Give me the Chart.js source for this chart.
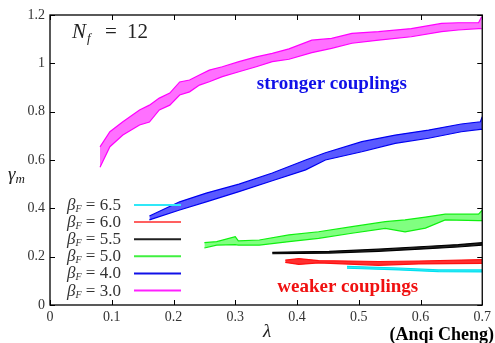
<!DOCTYPE html>
<html>
<head>
<meta charset="utf-8">
<script src="https://cdn.jsdelivr.net/npm/chart.js@4.4.1/dist/chart.umd.min.js"></script>
<style>
html,body{margin:0;padding:0;background:#fff;}
#c{display:block;}
</style>
</head>
<body>
<canvas id="c" width="495" height="343"></canvas>
<script>
// ---- data ----
const xTicks = [0, 0.1, 0.2, 0.3, 0.4, 0.5, 0.6, 0.7];
const yTicks = [0, 0.2, 0.4, 0.6, 0.8, 1, 1.2];
const legendLabels = ["6.5", "6.0", "5.5", "5.0", "4.0", "3.0"];

// beta_F = 3.0 (magenta)
const lam30 = [0.081,0.097,0.118,0.145,0.161,0.177,0.194,0.210,0.226,0.242,0.258,0.279,0.306,0.334,0.360,0.387,0.424,0.456,0.489,0.532,0.585,0.634,0.661,0.694,0.699];
const hi30  = [0.654,0.717,0.758,0.807,0.827,0.856,0.877,0.923,0.931,0.952,0.972,0.986,1.007,1.027,1.041,1.060,1.096,1.103,1.124,1.131,1.144,1.165,1.168,1.168,1.193];
const lo30  = [0.570,0.655,0.703,0.745,0.757,0.807,0.827,0.869,0.882,0.910,0.924,0.945,0.965,0.986,1.007,1.017,1.044,1.062,1.083,1.096,1.110,1.131,1.138,1.144,1.144];

// beta_F = 4.0 (blue)
const lam40 = [0.161,0.210,0.253,0.306,0.360,0.414,0.446,0.505,0.559,0.613,0.666,0.697,0.700];
const hi40  = [0.368,0.427,0.463,0.500,0.546,0.600,0.630,0.676,0.703,0.724,0.749,0.758,0.779];
const lo40  = [0.352,0.393,0.427,0.469,0.514,0.559,0.600,0.634,0.669,0.690,0.717,0.727,0.727];

// beta_F = 5.0 (green)
const lam50 = [0.250,0.270,0.300,0.305,0.339,0.387,0.435,0.489,0.543,0.575,0.608,0.640,0.694,0.700];
const hi50  = [0.258,0.262,0.283,0.265,0.269,0.290,0.303,0.324,0.345,0.352,0.364,0.376,0.376,0.392];
const lo50  = [0.236,0.248,0.250,0.248,0.248,0.262,0.276,0.297,0.317,0.303,0.318,0.352,0.349,0.349];

// beta_F = 5.5 (black)
const lam55 = [0.360,0.452,0.532,0.613,0.661,0.700];
const hi55  = [0.218,0.222,0.231,0.243,0.250,0.258];
const lo55  = [0.212,0.215,0.222,0.233,0.240,0.248];

// beta_F = 6.0 (red)
const lam60 = [0.381,0.403,0.435,0.532,0.597,0.700];
const hi60  = [0.186,0.192,0.184,0.180,0.182,0.188];
const lo60  = [0.176,0.168,0.174,0.164,0.170,0.172];

// beta_F = 6.5 (cyan)
const lam65 = [0.481,0.565,0.629,0.700];
const hi65  = [0.160,0.153,0.145,0.145];
const lo65  = [0.152,0.145,0.138,0.137];

// ---- styles ----
const edgeColors = {"6.5":"#00e0f0","6.0":"#ff1010","5.5":"#000000","5.0":"#10f010","4.0":"#0000f0","3.0":"#ff00ff"};
const fillColors = {"6.5":"#40eef8","6.0":"#ff3030","5.5":"#202020","5.0":"#80ff80","4.0":"#5a5aff","3.0":"#ff70ff"};
const legendLineColors = {"6.5":"#30e8f8","6.0":"#ff6060","5.5":"#202020","5.0":"#40f040","4.0":"#1010e8","3.0":"#ff20ff"};

function band(key, lam, lo, hi){
  const edge = edgeColors[key], fill = fillColors[key];
  return [
    {label:key+"lo", data: lam.map((x,i)=>({x:x,y:lo[i]})), borderColor:edge, borderWidth:1.2,
     pointRadius:0, fill:false, tension:0},
    {label:key, data: lam.map((x,i)=>({x:x,y:hi[i]})), borderColor:edge, borderWidth:1.2,
     pointRadius:0, fill:'-1', backgroundColor:fill, tension:0}
  ];
}

const datasets = [].concat(
  band("3.0", lam30, lo30, hi30),
  band("4.0", lam40, lo40, hi40),
  band("5.0", lam50, lo50, hi50),
  band("5.5", lam55, lo55, hi55),
  band("6.0", lam60, lo60, hi60),
  band("6.5", lam65, lo65, hi65)
);

const SERIF = '"Liberation Serif","DejaVu Serif",serif';

function fmt(v){ return String(Number(v.toFixed(2))); }

const decor = {
  id:'decor',
  afterDraw(chart){
    const ctx = chart.ctx, ca = chart.chartArea;
    const xs = chart.scales.x, ys = chart.scales.y;
    ctx.save();
    // frame
    ctx.strokeStyle = '#000';
    ctx.lineWidth = 1.3;
    ctx.strokeRect(ca.left, ca.top, ca.right-ca.left, ca.bottom-ca.top);
    // inward ticks
    ctx.lineWidth = 1;
    ctx.beginPath();
    xTicks.forEach(v=>{
      const p = Math.round(xs.getPixelForValue(v))+0.5;
      ctx.moveTo(p, ca.bottom); ctx.lineTo(p, ca.bottom-5);
      ctx.moveTo(p, ca.top); ctx.lineTo(p, ca.top+5);
    });
    yTicks.forEach(v=>{
      const p = Math.round(ys.getPixelForValue(v))+0.5;
      ctx.moveTo(ca.left, p); ctx.lineTo(ca.left+5, p);
      ctx.moveTo(ca.right, p); ctx.lineTo(ca.right-5, p);
    });
    ctx.stroke();

    ctx.textBaseline = 'alphabetic';
    ctx.textAlign = 'left';
    // N_f = 12
    const nx = xs.getPixelForValue(0.0355), ny = ys.getPixelForValue(1.105);
    ctx.fillStyle = '#222';
    ctx.font = 'italic 21px '+SERIF;
    ctx.fillText('N', nx, ny);
    const nw = ctx.measureText('N').width;
    ctx.font = 'italic 13px '+SERIF;
    ctx.fillText('f', nx+nw+1, ny+4);
    ctx.font = '21px '+SERIF;
    ctx.fillText('=', nx+33, ny);
    ctx.fillText('12', nx+55, ny);

    // legend
    legendLabels.forEach((k,i)=>{
      const cy = ca.bottom - 100 + i*17.1;
      let lx = ca.left + 17;
      ctx.fillStyle = '#333';
      ctx.font = 'italic 17px '+SERIF;
      ctx.fillText('\u03B2', lx, cy+5); lx += ctx.measureText('\u03B2').width;
      ctx.font = 'italic 10px '+SERIF;
      ctx.fillText('F', lx, cy+7); lx += ctx.measureText('F').width;
      ctx.font = '17px '+SERIF;
      ctx.fillText(' = '+k, lx, cy+5);
      ctx.strokeStyle = legendLineColors[k];
      ctx.lineWidth = 2;
      ctx.beginPath();
      ctx.moveTo(ca.left+84, cy); ctx.lineTo(ca.left+131, cy);
      ctx.stroke();
    });

    // annotations
    ctx.font = 'bold 19px '+SERIF;
    ctx.fillStyle = '#1010e8';
    ctx.fillText('stronger couplings', xs.getPixelForValue(0.335), ys.getPixelForValue(0.894));
    ctx.fillStyle = '#f01010';
    ctx.fillText('weaker couplings', xs.getPixelForValue(0.368), ys.getPixelForValue(0.054));

    // axis titles
    ctx.fillStyle = '#222';
    ctx.font = 'italic 19px '+SERIF;
    ctx.fillText('\u03B3', 8, 180);
    let gw = ctx.measureText('\u03B3').width;
    ctx.font = 'italic 13px '+SERIF;
    ctx.fillText('m', 8+gw, 183);
    ctx.font = 'italic 19px '+SERIF;
    ctx.textAlign = 'center';
    ctx.fillText('\u03BB', 267, 337);
    ctx.textAlign = 'right';
    ctx.fillStyle = '#000';
    ctx.font = 'bold 18px '+SERIF;
    ctx.fillText('(Anqi Cheng)', 494, 340);
    ctx.restore();
  }
};

new Chart(document.getElementById('c'), {
  type:'line',
  data:{datasets:datasets},
  options:{
    responsive:false,
    animation:false,
    devicePixelRatio:1,
    layout:{padding:{top:15,right:11,left:0,bottom:0}},
    plugins:{legend:{display:false}, tooltip:{enabled:false}, filler:{propagate:false}},
    scales:{
      x:{type:'linear', min:0, max:0.7,
         afterBuildTicks:(s)=>{ s.ticks = xTicks.map(v=>({value:v})); },
         afterFit:(s)=>{ s.height = 38; },
         grid:{display:false, drawTicks:false}, border:{display:false},
         ticks:{padding:4, color:'#333', font:{family:SERIF, size:14}, maxRotation:0, autoSkip:false, callback:(v)=>fmt(v)}},
      y:{type:'linear', min:0, max:1.2,
         afterBuildTicks:(s)=>{ s.ticks = yTicks.map(v=>({value:v})); },
         afterFit:(s)=>{ s.width = 50; },
         grid:{display:false, drawTicks:false}, border:{display:false},
         ticks:{padding:5, color:'#333', font:{family:SERIF, size:14}, autoSkip:false, callback:(v)=>fmt(v)}}
    }
  },
  plugins:[decor]
});
</script>
</body>
</html>
